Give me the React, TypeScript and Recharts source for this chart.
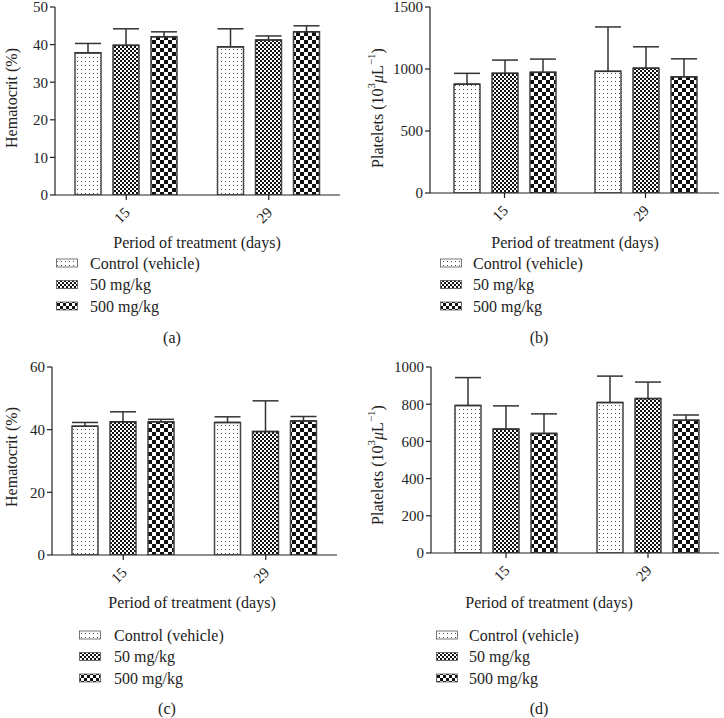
import React from 'react'
import { BarChart, Bar, XAxis, YAxis, ErrorBar } from 'recharts'

const FONT = '"Liberation Serif", "Times New Roman", serif'
const INK = '#222'

const days = ['15', '29']
const seriesNames = ['Control (vehicle)', '50 mg/kg', '500 mg/kg']
const seriesKeys = ['control', 'low', 'high']
const fills = ['dots', 'fine', 'coarse']

// (a) hematocrit, first study
const hctControlA = [37.8, 39.4]
const hctControlSdA = [2.5, 4.8]
const hctLowA = [39.8, 41.2]
const hctLowSdA = [4.4, 1.1]
const hctHighA = [42.1, 43.4]
const hctHighSdA = [1.3, 1.6]
const hctTicksA = [0, 10, 20, 30, 40, 50]

// (b) platelets, first study
const pltControlA = [878, 981]
const pltControlSdA = [87, 358]
const pltLowA = [965, 1007]
const pltLowSdA = [107, 172]
const pltHighA = [973, 937]
const pltHighSdA = [107, 145]
const pltTicksA = [0, 500, 1000, 1500]

// (c) hematocrit, second study
const hctControlB = [41.1, 42.3]
const hctControlSdB = [1.2, 1.8]
const hctLowB = [42.5, 39.4]
const hctLowSdB = [3.2, 9.8]
const hctHighB = [42.5, 42.8]
const hctHighSdB = [0.8, 1.4]
const hctTicksB = [0, 20, 40, 60]

// (d) platelets, second study
const pltControlB = [793, 809]
const pltControlSdB = [150, 142]
const pltLowB = [666, 830]
const pltLowSdB = [125, 89]
const pltHighB = [643, 714]
const pltHighSdB = [105, 28]
const pltTicksB = [0, 200, 400, 600, 800, 1000]

const buildRows = (c: number[], cs: number[], l: number[], ls: number[], h: number[], hs: number[]) =>
  days.map((d, i) => ({
    day: d,
    control: c[i], controlErr: [0, cs[i]],
    low: l[i], lowErr: [0, ls[i]],
    high: h[i], highErr: [0, hs[i]],
  }))

function Patterns({ prefix }: { prefix: string }) {
  return (
    <defs>
      <pattern id={`${prefix}-dots`} width={4} height={4} patternUnits="userSpaceOnUse">
        <rect width={4} height={4} fill="#fff" />
        <rect x={1} y={1} width={1} height={1} fill="#555" />
      </pattern>
      <pattern id={`${prefix}-fine`} width={4} height={4} patternUnits="userSpaceOnUse">
        <rect width={4} height={4} fill="#fff" />
        <rect width={2} height={2} fill="#111" />
        <rect x={2} y={2} width={2} height={2} fill="#111" />
      </pattern>
      <pattern id={`${prefix}-coarse`} width={8} height={8} patternUnits="userSpaceOnUse">
        <rect width={8} height={8} fill="#fff" />
        <rect width={4} height={4} fill="#111" />
        <rect x={4} y={4} width={4} height={4} fill="#111" />
      </pattern>
      <pattern id={`${prefix}-lgcoarse`} width={6} height={6} patternUnits="userSpaceOnUse">
        <rect width={6} height={6} fill="#fff" />
        <rect width={3} height={3} fill="#111" />
        <rect x={3} y={3} width={3} height={3} fill="#111" />
      </pattern>
    </defs>
  )
}

const plateletsLabel = (
  <>
    Platelets (10<tspan dy={-6} fontSize={11}>3</tspan>
    <tspan dy={6} fontStyle="italic">μ</tspan>L<tspan dy={-6} fontSize={11}>−1</tspan>
    <tspan dy={6}>)</tspan>
  </>
)

const panels = [
  {
    key: 'a', left: 0, top: 0, height: 360,
    data: buildRows(hctControlA, hctControlSdA, hctLowA, hctLowSdA, hctHighA, hctHighSdA),
    domain: [0, 50], ticks: hctTicksA,
    yWidth: 55, marginRight: 22, plotTop: 7, plotBottom: 195, padL: 0, padR: 0,
    yLabel: 'Hematocrit (%)' as React.ReactNode, yLabelX: 11, yLabelY: 98,
    xLabelX: 197, xLabelY: 242,
    legendX: 56, legendTextX: 90, legendRow0: 263,
    caption: '(a)', captionX: 172, captionY: 337,
  },
  {
    key: 'b', left: 362, top: 0, height: 360,
    data: buildRows(pltControlA, pltControlSdA, pltLowA, pltLowSdA, pltHighA, pltHighSdA),
    domain: [0, 1500], ticks: pltTicksA,
    yWidth: 68, marginRight: 5, plotTop: 7, plotBottom: 193, padL: 4, padR: 3,
    yLabel: plateletsLabel, yLabelX: 15, yLabelY: 108,
    xLabelX: 213, xLabelY: 242,
    legendX: 78, legendTextX: 111, legendRow0: 263,
    caption: '(b)', captionX: 177, captionY: 337,
  },
  {
    key: 'c', left: 0, top: 360, height: 358,
    data: buildRows(hctControlB, hctControlSdB, hctLowB, hctLowSdB, hctHighB, hctHighSdB),
    domain: [0, 60], ticks: hctTicksB,
    yWidth: 52, marginRight: 25, plotTop: 7, plotBottom: 195, padL: 0, padR: 0,
    yLabel: 'Hematocrit (%)' as React.ReactNode, yLabelX: 11, yLabelY: 97,
    xLabelX: 192, xLabelY: 242,
    legendX: 79, legendTextX: 114, legendRow0: 275,
    caption: '(c)', captionX: 167, captionY: 348,
  },
  {
    key: 'd', left: 362, top: 360, height: 358,
    data: buildRows(pltControlB, pltControlSdB, pltLowB, pltLowSdB, pltHighB, pltHighSdB),
    domain: [0, 1000], ticks: pltTicksB,
    yWidth: 69, marginRight: 5, plotTop: 7, plotBottom: 193, padL: 4, padR: 0,
    yLabel: plateletsLabel, yLabelX: 15, yLabelY: 105,
    xLabelX: 187, xLabelY: 242,
    legendX: 74, legendTextX: 107, legendRow0: 275,
    caption: '(d)', captionX: 177, captionY: 348,
  },
]

type PanelT = (typeof panels)[number]

const XTick = (props: any) => {
  const { x, y, payload } = props
  const ax = x + 1
  const ay = y + 8
  return (
    <text x={ax} y={ay} transform={`rotate(-45 ${ax} ${ay})`} textAnchor="end" dominantBaseline="central"
      fontSize={15} fill={INK} fontFamily={FONT}>
      {payload.value}
    </text>
  )
}

function Panel({ p }: { p: PanelT }) {
  const XAXIS_H = 55
  const bottom = p.height - p.plotBottom - XAXIS_H
  return (
    <div style={{ position: 'absolute', left: p.left, top: p.top, width: 362, height: p.height }}>
      <BarChart width={362} height={p.height} data={p.data} barSize={26} barGap={12}
        margin={{ top: p.plotTop, right: p.marginRight, left: 0, bottom }}>
        <Patterns prefix={p.key} />
        <XAxis dataKey="day" height={XAXIS_H} padding={{ left: p.padL, right: p.padR }}
          axisLine={{ stroke: INK, strokeWidth: 1.2 }} tickLine={{ stroke: INK, strokeWidth: 1.2 }} tickSize={5}
          tick={<XTick />} interval={0}
          label={() => (
            <text x={p.xLabelX} y={p.xLabelY} textAnchor="middle" dominantBaseline="central"
              fontSize={16} fill={INK} fontFamily={FONT}>Period of treatment (days)</text>
          )} />
        <YAxis width={p.yWidth} domain={p.domain} ticks={p.ticks} interval={0} allowDataOverflow
          axisLine={{ stroke: INK, strokeWidth: 1.2 }} tickLine={{ stroke: INK, strokeWidth: 1.2 }} tickSize={5}
          tick={{ fontSize: 15, fill: INK, fontFamily: FONT }}
          label={() => (
            <text x={p.yLabelX} y={p.yLabelY} transform={`rotate(-90 ${p.yLabelX} ${p.yLabelY})`}
              textAnchor="middle" dominantBaseline="central" fontSize={16} fill={INK} fontFamily={FONT}>
              {p.yLabel}
            </text>
          )} />
        {seriesKeys.map((k, i) => (
          <Bar key={k} dataKey={k} name={seriesNames[i]} fill={`url(#${p.key}-${fills[i]})`}
            stroke="#444" strokeWidth={1.5} isAnimationActive={false}>
            <ErrorBar dataKey={`${k}Err`} width={13} stroke="#333" strokeWidth={1.5} direction="y"
              isAnimationActive={false} />
          </Bar>
        ))}
        <g className="legend">
          {seriesNames.map((name, i) => {
            const cy = p.legendRow0 + i * 21.5
            const f = fills[i] === 'coarse' ? 'lgcoarse' : fills[i]
            return (
              <g key={name}>
                <rect x={p.legendX + 0.5} y={cy - 4} width={21} height={8} fill={`url(#${p.key}-${f})`}
                  stroke="#555" strokeWidth={0.8} />
                <text x={p.legendTextX} y={cy} dominantBaseline="central" fontSize={16} fill={INK}
                  fontFamily={FONT}>{name}</text>
              </g>
            )
          })}
        </g>
        <text x={p.captionX} y={p.captionY} textAnchor="middle" dominantBaseline="central" fontSize={16}
          fill={INK} fontFamily={FONT}>{p.caption}</text>
      </BarChart>
    </div>
  )
}

export default function App() {
  return (
    <div style={{ position: 'absolute', left: 0, top: 0, width: 724, height: 718, background: '#fff' }}>
      {panels.map((p) => <Panel key={p.key} p={p} />)}
    </div>
  )
}
